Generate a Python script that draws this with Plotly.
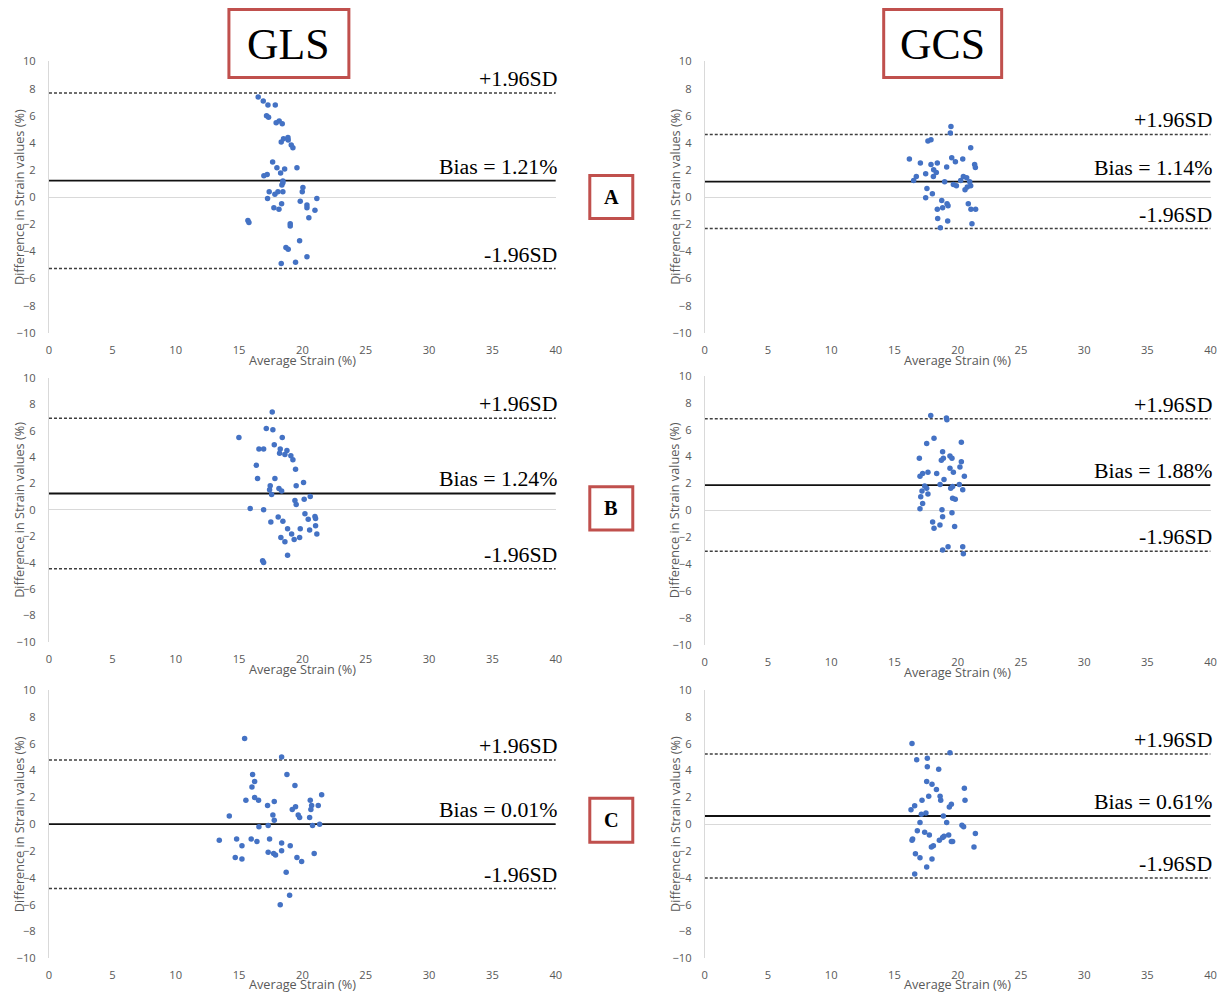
import plotly.graph_objects as go

W, H = 1225, 995

# capture calibration: rendered pixel = A + S * figure pixel
AX, SX = 2.0, 0.993
AY, SY = 8.6, 0.984

# ---------------- GLS (left column) ----------------
gls_a_avg = [16.51, 16.91, 17.28, 17.86, 17.17, 17.33, 17.93, 18.17, 18.41, 18.33, 18.51, 18.86, 18.88,
             19.12, 19.25, 17.65, 17.99, 18.60, 19.57, 18.28, 16.96, 17.22, 18.38, 18.46, 18.46, 17.38,
             18.07, 18.46, 17.83, 17.25, 20.04, 19.99, 21.14, 19.83, 20.36, 20.36, 18.36, 17.75, 18.15,
             20.99, 20.51, 15.70, 15.78, 19.04, 19.04, 19.78, 18.70, 18.88, 20.36, 19.46, 18.33]
gls_a_diff = [7.38, 7.08, 6.79, 6.79, 6.00, 5.88, 5.48, 5.61, 5.41, 4.06, 4.30, 4.40, 4.21,
              3.84, 3.64, 2.58, 2.16, 2.07, 2.16, 1.77, 1.57, 1.67, 0.89, 1.06, 1.18, 0.39,
              0.39, 0.39, 0.20, -0.10, 0.71, 0.39, -0.10, -0.30, -0.59, -0.79, -0.49, -0.79, -0.89,
              -0.98, -1.53, -1.72, -1.87, -1.97, -2.14, -3.22, -3.71, -3.84, -4.40, -4.80, -4.89]

gls_b_avg = [17.62, 17.15, 17.67, 14.99, 18.41, 17.78, 16.57, 16.94, 18.25, 18.78, 18.20, 18.62, 19.09,
             19.25, 16.36, 19.46, 16.46, 17.83, 20.09, 17.46, 19.51, 17.41, 18.15, 18.36, 17.57, 20.62,
             20.14, 19.41, 19.51, 15.88, 16.94, 20.20, 20.99, 21.04, 20.46, 18.09, 18.46, 17.51, 21.04,
             18.83, 19.83, 20.57, 19.15, 21.14, 18.30, 19.78, 19.35, 18.62, 18.83, 16.86, 16.94]
gls_b_diff = [7.40, 6.16, 6.06, 5.48, 5.48, 4.92, 4.60, 4.60, 4.60, 4.49, 4.29, 4.19, 4.09,
              3.79, 3.38, 3.08, 2.37, 2.37, 2.07, 1.82, 1.82, 1.52, 1.61, 1.42, 1.16, 1.01,
              0.81, 0.71, 0.40, 0.10, 0.00, -0.30, -0.51, -0.66, -0.71, -0.53, -0.86, -0.91, -1.21,
              -1.42, -1.42, -1.52, -1.82, -1.82, -2.10, -2.10, -2.25, -2.42, -3.43, -3.86, -3.99]

gls_c_avg = [15.44, 18.36, 16.07, 18.78, 16.23, 16.02, 19.41, 21.52, 15.54, 16.23, 16.54, 17.78, 20.62,
             17.25, 20.73, 21.25, 19.46, 19.20, 20.67, 14.23, 17.67, 19.67, 19.78, 20.57, 17.78, 21.36,
             20.80, 17.30, 16.57, 13.44, 14.81, 15.96, 17.41, 16.41, 18.36, 15.23, 19.04, 18.36, 17.30,
             17.73, 17.88, 20.93, 14.70, 15.23, 19.57, 19.94, 18.72, 18.99, 18.25]
gls_c_diff = [6.39, 5.00, 3.70, 3.70, 3.18, 2.78, 2.88, 2.19, 1.79, 1.99, 1.79, 1.69, 1.79,
              1.39, 1.39, 1.39, 1.29, 1.09, 1.09, 0.60, 0.69, 0.69, 0.49, 0.49, 0.30, 0.00,
              -0.10, -0.10, -0.20, -1.19, -1.10, -1.10, -1.10, -1.30, -1.40, -1.60, -1.60, -1.99, -2.09,
              -2.19, -2.29, -2.19, -2.49, -2.59, -2.49, -2.79, -3.58, -5.30, -6.00]

gls_bias = [1.21, 1.24, 0.01]
gls_upper = [7.68, 6.94, 4.78]
gls_lower = [-5.27, -4.46, -4.80]

# ---------------- GCS (right column) ----------------
gcs_a_avg = [19.47, 19.42, 17.65, 17.89, 21.03, 16.18, 17.05, 17.89, 18.39, 19.53, 19.82, 20.40, 21.34,
             21.40, 19.13, 18.10, 18.31, 17.47, 18.08, 16.73, 16.52, 18.97, 20.45, 20.71, 20.24, 20.95,
             21.03, 19.66, 19.90, 20.76, 20.58, 17.57, 18.00, 17.47, 18.74, 19.16, 19.24, 18.81, 18.39,
             20.84, 21.05, 21.42, 18.42, 19.21, 21.13, 18.63]
gcs_a_diff = [5.21, 4.72, 4.13, 4.23, 3.64, 2.80, 2.51, 2.41, 2.51, 2.90, 2.61, 2.80, 2.41,
              2.18, 2.21, 2.01, 1.82, 1.72, 1.52, 1.52, 1.23, 1.13, 1.52, 1.42, 1.23, 1.13,
              0.83, 0.93, 0.83, 0.74, 0.54, 0.64, 0.24, -0.05, -0.25, -0.49, -0.64, -0.79, -0.89,
              -0.49, -0.89, -0.89, -1.58, -1.77, -1.97, -2.27]

gcs_b_avg = [17.87, 19.11, 19.15, 18.13, 17.55, 20.29, 18.81, 16.97, 19.39, 19.55, 18.87, 18.71, 20.29,
             20.18, 19.39, 19.66, 17.65, 17.23, 18.34, 17.02, 20.53, 18.92, 18.61, 20.13, 17.39, 19.60,
             19.45, 17.55, 20.40, 17.18, 17.65, 17.08, 19.60, 19.81, 17.23, 17.02, 18.76, 19.55, 18.81,
             18.02, 18.60, 19.76, 18.13, 19.24, 18.81, 20.40, 20.45]
gcs_b_diff = [7.04, 6.86, 6.74, 5.35, 4.96, 5.06, 4.36, 3.87, 4.04, 3.87, 3.87, 3.72, 3.62,
              3.22, 3.12, 2.83, 2.83, 2.73, 2.73, 2.53, 2.53, 2.30, 1.93, 1.93, 1.81, 1.78,
              1.64, 1.64, 1.54, 1.44, 1.21, 1.02, 0.91, 0.82, 0.52, 0.12, 0.05, -0.17, -0.47,
              -0.87, -1.09, -1.19, -1.32, -2.70, -2.95, -2.70, -3.22]

gcs_c_avg = [16.39, 19.39, 16.76, 17.60, 17.60, 18.50, 17.55, 17.97, 18.32, 20.53, 18.61, 17.71, 18.66,
             20.58, 17.18, 19.50, 19.34, 16.60, 16.31, 17.49, 17.13, 18.87, 17.02, 19.13, 20.34, 20.47,
             16.81, 17.39, 17.76, 21.40, 19.29, 18.92, 18.81, 18.55, 16.44, 16.39, 19.50, 19.60, 18.08,
             17.92, 21.29, 16.66, 17.02, 17.97, 17.55, 16.60]
gcs_c_diff = [6.02, 5.32, 4.81, 4.92, 4.29, 4.09, 3.19, 2.98, 2.59, 2.68, 2.08, 2.08, 1.78,
              1.78, 1.78, 1.48, 1.28, 1.38, 1.08, 0.83, 0.73, 0.60, 0.13, 0.13, -0.08, -0.20,
              -0.50, -0.60, -0.80, -0.70, -0.80, -0.90, -1.00, -1.20, -1.10, -1.20, -1.30, -1.30, -1.60,
              -1.70, -1.70, -2.20, -2.50, -2.60, -3.20, -3.71]

gcs_bias = [1.14, 1.88, 0.61]
gcs_upper = [4.62, 6.80, 5.24]
gcs_lower = [-2.32, -3.04, -4.02]

x_ticks = [0, 5, 10, 15, 20, 25, 30, 35, 40]
y_ticks = [10, 8, 6, 4, 2, 0, -2, -4, -6, -8, -10]
column_titles = ["GLS", "GCS"]
row_labels = ["A", "B", "C"]


def fx(px):
    """target x pixel -> paper fraction"""
    return (px - AX) / SX / W


def fy(py):
    """target y pixel (from top) -> paper fraction"""
    return 1 - (py - AY) / SY / H


def fs(size):
    """font size compensated for the capture scale"""
    return size / SY


# plot areas in pixels: (left, right, top, bottom)
areas = [
    (48, 555, 62, 333), (704, 1210, 62, 333),
    (48, 555, 378, 642), (704, 1210, 376, 645),
    (48, 555, 690, 958), (704, 1210, 690, 958),
]

panels = [
    (gls_a_avg, gls_a_diff, gls_bias[0], gls_upper[0], gls_lower[0]),
    (gcs_a_avg, gcs_a_diff, gcs_bias[0], gcs_upper[0], gcs_lower[0]),
    (gls_b_avg, gls_b_diff, gls_bias[1], gls_upper[1], gls_lower[1]),
    (gcs_b_avg, gcs_b_diff, gcs_bias[1], gcs_upper[1], gcs_lower[1]),
    (gls_c_avg, gls_c_diff, gls_bias[2], gls_upper[2], gls_lower[2]),
    (gcs_c_avg, gcs_c_diff, gcs_bias[2], gcs_upper[2], gcs_lower[2]),
]

TICK_FONT = dict(family="Open Sans", size=fs(11), color="#595959")
TITLE_FONT = dict(family="Open Sans", size=fs(12.5), color="#595959")
SERIF = "Liberation Serif"

fig = go.Figure()
layout = {}
annotations = []
shapes = []

for i, ((avg, diff, bias, upper, lower), (l, r, t, b)) in enumerate(zip(panels, areas)):
    n = i + 1
    sfx = "" if n == 1 else str(n)
    xa, ya = f"x{sfx}", f"y{sfx}"

    # limits of agreement (dashed) and bias (solid)
    for val, style in ((upper, dict(color="#3f3f3f", width=1.5, dash="3px,2px")),
                       (lower, dict(color="#3f3f3f", width=1.5, dash="3px,2px")),
                       (bias, dict(color="#111111", width=1.8))):
        fig.add_trace(go.Scatter(x=[0, 40], y=[val, val], mode="lines", line=style,
                                 xaxis=xa, yaxis=ya, showlegend=False, hoverinfo="skip"))

    fig.add_trace(go.Scatter(x=avg, y=diff, mode="markers",
                             marker=dict(color="#4472C4", size=5.5),
                             xaxis=xa, yaxis=ya, showlegend=False))

    layout[f"xaxis{sfx}"] = dict(domain=[fx(l), fx(r)], range=[0, 40], anchor=ya,
                                 tickvals=x_ticks, showgrid=False, zeroline=False,
                                 showline=False, ticks="", tickfont=TICK_FONT,
                                 ticklabelstandoff=9)
    layout[f"yaxis{sfx}"] = dict(domain=[fy(b), fy(t)], range=[-10, 10], anchor=xa,
                                 tickvals=y_ticks, showgrid=False, zeroline=True,
                                 zerolinecolor="#D9D9D9", zerolinewidth=1,
                                 showline=True, linecolor="#D9D9D9", linewidth=1,
                                 ticks="", tickfont=TICK_FONT, ticklabelstandoff=10)

    # line labels
    lab_font = dict(family=SERIF, size=fs(21.5), color="#000000")
    for val, txt in ((upper, "+1.96SD"), (bias, f"Bias = {bias:.2f}%"), (lower, "-1.96SD")):
        annotations.append(dict(x=40, y=val, xref=xa, yref=ya, text=txt, showarrow=False,
                                xanchor="right", yanchor="bottom", xshift=3, yshift=0,
                                font=lab_font))

    # axis titles
    annotations.append(dict(x=fx((l + r) / 2), y=fy(min(b + 27, 984)), xref="paper",
                            yref="paper", text="Average Strain (%)", showarrow=False,
                            font=TITLE_FONT, xanchor="center", yanchor="middle"))
    annotations.append(dict(x=fx(l - 30), y=fy((t + b) / 2), xref="paper", yref="paper",
                            text="Difference in Strain values (%)", showarrow=False,
                            font=TITLE_FONT, textangle=-90, xanchor="center", yanchor="middle"))

# column headers in red boxes
for title, (x0, x1) in zip(column_titles, [(228, 348), (883, 1001)]):
    shapes.append(dict(type="rect", xref="paper", yref="paper",
                       x0=fx(x0), x1=fx(x1), y0=fy(78), y1=fy(10),
                       line=dict(color="#C0504D", width=3), fillcolor="white"))
    annotations.append(dict(x=fx((x0 + x1) / 2), y=fy(45), xref="paper", yref="paper",
                            text=title, showarrow=False, xanchor="center", yanchor="middle",
                            font=dict(family=SERIF, size=fs(43), color="#000000")))

# row labels in red boxes
for label, (y0, y1) in zip(row_labels, [(176, 219), (487, 530), (798, 842)]):
    shapes.append(dict(type="rect", xref="paper", yref="paper",
                       x0=fx(589), x1=fx(632), y0=fy(y1), y1=fy(y0),
                       line=dict(color="#C0504D", width=3), fillcolor="white"))
    annotations.append(dict(x=fx(610.5), y=fy((y0 + y1) / 2), xref="paper", yref="paper",
                            text=f"<b>{label}</b>", showarrow=False, xanchor="center",
                            yanchor="middle", font=dict(family=SERIF, size=fs(20), color="#000000")))

fig.update_layout(**layout)
fig.update_layout(width=W, height=H, margin=dict(l=0, r=0, t=0, b=0),
                  paper_bgcolor="white", plot_bgcolor="white",
                  annotations=annotations, shapes=shapes, showlegend=False)

fig.write_html("out.html")
